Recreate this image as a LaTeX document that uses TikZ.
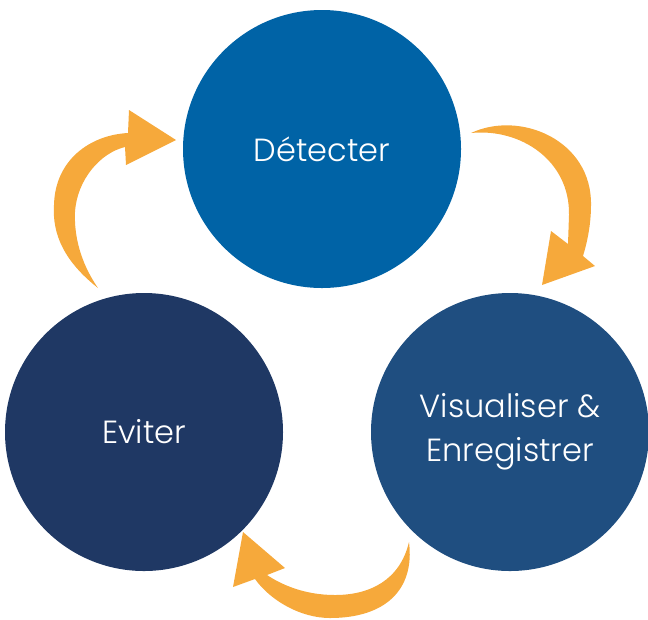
\documentclass[tikz,border=0pt]{standalone}
\usepackage{fontspec}
\setmainfont{Poppins}[UprightFont=* Light]
\definecolor{detblue}{HTML}{0063A6}
\definecolor{visblue}{HTML}{1F4E80}
\definecolor{evinavy}{HTML}{1F3864}
\definecolor{arrorange}{HTML}{F6A93B}
\begin{document}
\begin{tikzpicture}[x=0.75pt,y=-0.75pt,
  stage/.style={circle,minimum size=208.5pt,inner sep=0pt,text=white,
    font=\fontsize{24pt}{33pt}\selectfont,align=center},
  turn/.style={fill=arrorange,draw=none}]
  \useasboundingbox (0,0) rectangle (648,619);

  \node[stage,fill=detblue] (det) at (322,149) {Détecter};
  \node[stage,fill=visblue] (vis) at (510,432) {Visualiser \&\\Enregistrer};
  \node[stage,fill=evinavy] (evi) at (144,432) {Eviter};

  % det -> vis
  \fill[turn] (471,133) .. controls (520,110) and (592,140) .. (591,205)
    .. controls (591,225) and (587,243) .. (583,256)
    -- (595,266) -- (542,285) -- (551,231) -- (568,244)
    -- (569,215) .. controls (570,160) and (520,128) .. (471,133) -- cycle;
  % vis -> evi
  \fill[turn] (409,542) .. controls (415,590) and (385,618) .. (330,618)
    .. controls (300,618) and (270,600) .. (255,579)
    -- (233,587) -- (243,532) -- (285,568) -- (267,575)
    .. controls (282,585) and (305,595) .. (335,595)
    .. controls (370,595) and (400,580) .. (409,542) -- cycle;
  % evi -> det
  \fill[turn] (98,288) .. controls (65,262) and (52,235) .. (54,205)
    .. controls (55,160) and (90,135) .. (128,133)
    -- (129,110) -- (176,140) -- (126,165) -- (125,147)
    .. controls (100,153) and (77,180) .. (75,212)
    .. controls (74,235) and (80,262) .. (98,288) -- cycle;
\end{tikzpicture}
\end{document}
